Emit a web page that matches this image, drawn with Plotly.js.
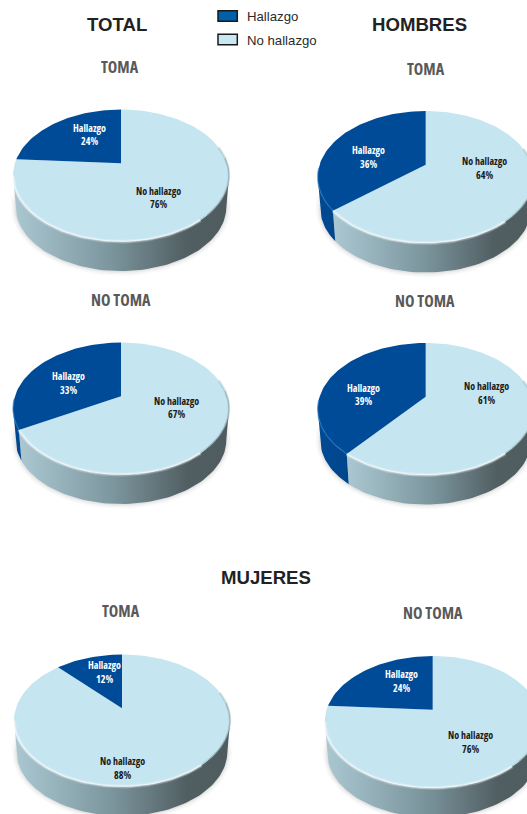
<!DOCTYPE html>
<html>
<head>
<meta charset="utf-8">
<script src="https://cdn.plot.ly/plotly-3.0.1.min.js"></script>
<style>html,body{margin:0;padding:0;background:#fff}#chart{width:527px;height:814px}
text.annotation-text[style*="Open Sans"]{font-stretch:75%;}
</style>
</head>
<body>
<div id="chart"></div>
<script>
// ---- data ----
const categories = ["Hallazgo", "No hallazgo"];
const panelNames = ["TOMA", "TOMA", "NO TOMA", "NO TOMA", "TOMA", "NO TOMA"];
const groupTitles = ["TOTAL", "HOMBRES", "MUJERES"];
const hallazgo   = [24, 36, 33, 39, 12, 24];
const noHallazgo = [76, 64, 67, 61, 88, 76];

// ---- layout (pixels of the 527x814 canvas, used as axis units) ----
const pies = [
  {cx:121,   cy:175.5, top:{x:120,   y:67},  h:[89,134.5],    n:[158.5,197.5]},
  {cx:425.7, cy:177,   top:{x:425.5, y:69},  h:[368,157],     n:[484.7,168]},
  {cx:121,   cy:408.5, top:{x:120.5, y:300}, h:[68,383],      n:[176,407.5]},
  {cx:425.7, cy:409,   top:{x:425,   y:301}, h:[363.7,394.5], n:[486.3,393]},
  {cx:122,   cy:720.5, top:{x:121,   y:611}, h:[104.5,672],   n:[122,768]},
  {cx:432.7, cy:722,   top:{x:432.5, y:613}, h:[401.3,681],   n:[470,742]}
];
const groupPos = [[116.5,24.5],[419,24.5],[266,577.5]];
const RX = 108, RY = 66, DEPTH = 31.5, TILT = 0.186;
const LIGHT = "#C5E5F0", BLUE = "#004B97";

// perspective projection of a point of the disc (deg clockwise from the top)
function proj(p, deg, r) {
  const t = deg * Math.PI / 180, X = r * Math.sin(t), Y = r * Math.cos(t), w = 1 + TILT * Y;
  return [p.cx + RX * X * Math.sqrt(1 - TILT * TILT) / w, p.cy - RY * (Y + TILT) / w];
}
function low(p, deg) {
  const q = proj(p, deg, 1);
  return [p.cx + (q[0] - p.cx) * 0.975, q[1] + DEPTH - (q[1] - p.cy) * 0.03];
}
function arc(a, b, fn) {
  const out = [], n = Math.max(2, Math.ceil(Math.abs(b - a) / 2));
  for (let i = 0; i <= n; i++) out.push(fn(a + (b - a) * i / n));
  return out;
}
const xs = a => a.map(q => q[0]), ys = a => a.map(q => q[1]);
const TR = Math.acos(-TILT) * 180 / Math.PI, TL = 360 - TR;

const traces = [];
function add(pts, extra) {
  traces.push(Object.assign({x: xs(pts), y: ys(pts), mode: "lines", type: "scatter",
    hoverinfo: "skip", showlegend: false, line: {width: 0}}, extra));
}
function wall(p, a, b, grad) {
  a = Math.max(a, TR); b = Math.min(b, TL);
  if (b <= a) return;
  const pts = arc(a, b, d => proj(p, d, 1)).concat(arc(b, a, d => low(p, d)));
  pts.push(pts[0]);
  add(pts, {fill: "toself", fillcolor: "#7a949c", fillgradient: grad});
}
function wedge(p, a, b, color, name) {
  const pts = [proj(p, 0, 0)].concat(arc(a, b, d => proj(p, d, 1)));
  pts.push(pts[0]);
  add(pts, {fill: "toself", fillcolor: color, name: name});
}

pies.forEach((p, i) => {
  const split = 360 * noHallazgo[i] / (noHallazgo[i] + hallazgo[i]);
  // soft shadow
  const rim = arc(TR - 25, TL + 25, d => low(p, d));
  [[10, 0.025], [7, 0.03], [4, 0.04], [2, 0.05]].forEach(s =>
    add(rim, {line: {width: s[0], color: "rgba(60,60,60," + s[1] + ")"}}));
  // side wall
  wall(p, 0, split, {type: "horizontal", colorscale: [[0, "#ABC8D2"], [0.45, "#7C969E"], [0.8, "#515F63"], [1, "#4E5B5F"]]});
  wall(p, split, 360, {type: "horizontal", colorscale: [[0, "#004A94"], [1, "#00468C"]]});
  // top face
  wedge(p, 0, split, LIGHT, categories[1]);
  wedge(p, split, 360, BLUE, categories[0]);
  // bevel highlights, soft
  const b1 = Math.min(split, TL);
  if (b1 > 140) {
    add(arc(140, b1, d => proj(p, d, 1)), {line: {width: 4, color: "rgba(255,255,255,0.22)"}});
    add(arc(140, b1, d => proj(p, d, 1)), {line: {width: 1.8, color: "rgba(255,255,255,0.5)"}});
  }
  add(arc(75, 140, d => proj(p, d, 1)), {line: {width: 2.5, color: "rgba(110,135,142,0.22)"}});
  add(arc(85, 135, d => proj(p, d, 1)), {line: {width: 1.2, color: "rgba(110,135,142,0.4)"}});
  if (split < TL) add(arc(split, TL + 8, d => proj(p, d, 1)), {line: {width: 1.5, color: "rgba(40,120,190,0.55)"}});
});

// ---- text ----
const ann = [];
const txt = (x, y, text, size, color, family, bold) => ann.push({
  x, y, xref: "x", yref: "y", text: bold ? "<b>" + text + "</b>" : text, showarrow: false,
  xanchor: "center", yanchor: "middle",
  font: {size, color, family}
});
const NARROW = "'Open Sans',sans-serif";
const SANS = "'Liberation Sans',Arial,sans-serif";
const LINE = 6.75, LABEL = 10;
groupTitles.forEach((t, i) => txt(groupPos[i][0], groupPos[i][1], t, 18.6, "#222222", SANS, true));
pies.forEach((p, i) => {
  txt(p.top.x, p.top.y, panelNames[i], 16, "#595959", NARROW, true);
  txt(p.h[0], p.h[1] - LINE, categories[0], LABEL, "#FFFFFF", NARROW, true);
  txt(p.h[0], p.h[1] + LINE, hallazgo[i] + "%", LABEL, "#FFFFFF", NARROW, true);
  txt(p.n[0], p.n[1] - LINE, categories[1], LABEL, "#1a1a1a", NARROW, true);
  txt(p.n[0], p.n[1] + LINE, noHallazgo[i] + "%", LABEL, "#1a1a1a", NARROW, true);
});
// legend
const legendRows = [{y0:10.7, y1:21.3, c:"#0060A8", ty:16.5}, {y0:34.3, y1:44.7, c:"#C9E8F2", ty:40}];
const shapes = legendRows.map(r => ({type:"rect", xref:"x", yref:"y", x0:218, x1:237.3, y0:r.y0, y1:r.y1,
  fillcolor:r.c, line:{color:"#1a1a1a", width:1.5}}));
legendRows.forEach((r, i) => ann.push({x:244.5, y:r.ty, xref:"x", yref:"y", text:categories[i], showarrow:false,
  xanchor:"left", yanchor:"middle", font:{size:13.2, color:"#2a2a2a", family:SANS}}));

Plotly.newPlot("chart", traces, {
  width: 527, height: 814,
  margin: {l:0, r:0, t:0, b:0},
  paper_bgcolor: "#FFFFFF", plot_bgcolor: "#FFFFFF",
  showlegend: false,
  xaxis: {range:[0,527], visible:false, fixedrange:true},
  yaxis: {range:[814,0], visible:false, fixedrange:true},
  annotations: ann, shapes: shapes
}, {displayModeBar:false, staticPlot:true});
</script>
</body>
</html>
